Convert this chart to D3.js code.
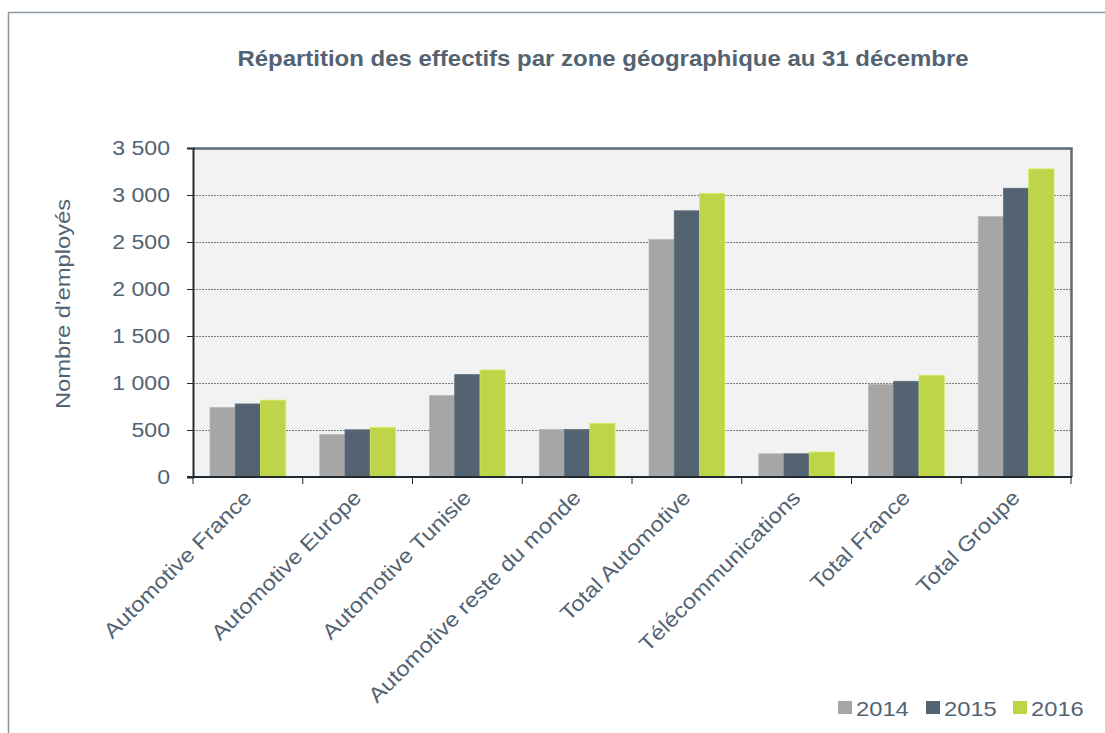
<!DOCTYPE html>
<html>
<head>
<meta charset="utf-8">
<script src="https://cdn.jsdelivr.net/npm/d3@7"></script>
<style>
  body { margin: 0; background: #fff; }
  svg { display: block; }
  svg text { font-family: "Liberation Sans", Arial, Helvetica, sans-serif; }
</style>
</head>
<body>
<script>
var categories = ["Automotive France", "Automotive Europe", "Automotive Tunisie",
  "Automotive reste du monde", "Total Automotive", "Télécommunications",
  "Total France", "Total Groupe"];
var years = ["2014", "2015", "2016"];
var values2014 = [740, 453, 866, 506, 2527, 247, 986, 2771];
var values2015 = [777, 502, 1089, 506, 2832, 247, 1018, 3072];
var values2016 = [817, 527, 1138, 569, 3015, 265, 1082, 3277];
var yTicks = [0, 500, 1000, 1500, 2000, 2500, 3000, 3500];
var colors = ["#a6a6a6", "#536372", "#bed449"];

var series = [values2014, values2015, values2016];
var textColor = "#536372";
var font = "'Liberation Sans', Arial, Helvetica, sans-serif";
var stretch = 1.13; // the source font is a bit wider than Arial

var width = 1105, height = 733;
var margin = { top: 148, right: 34, bottom: 256, left: 193 };

var svg = d3.select("body").append("svg")
  .attr("width", width)
  .attr("height", height)
  .attr("font-family", font);

// outer frame (only top and left visible)
svg.append("path")
  .attr("d", "M8.5,733 V12.5 H1105")
  .attr("fill", "none")
  .attr("stroke", "#8c98a2")
  .attr("stroke-width", 1.5);

svg.append("text")
  .attr("transform", "translate(603,66) scale(1.09,1)")
  .attr("text-anchor", "middle")
  .attr("font-size", 22)
  .attr("font-weight", "bold")
  .attr("fill", textColor)
  .text("Répartition des effectifs par zone géographique au 31 décembre");

var x0 = d3.scaleBand()
  .domain(categories)
  .range([margin.left, width - margin.right])
  .paddingInner(0.31)
  .paddingOuter(0.155);

var x1 = d3.scaleBand()
  .domain(years)
  .range([0, x0.bandwidth()]);

var y = d3.scaleLinear()
  .domain([0, 3500])
  .range([height - margin.bottom, margin.top]);

var plotLeft = margin.left, plotRight = width - margin.right;

// plot background
svg.append("rect")
  .attr("x", plotLeft)
  .attr("y", y(3500))
  .attr("width", plotRight - plotLeft)
  .attr("height", y(0) - y(3500))
  .attr("fill", "#f2f2f2");

// gridlines
svg.append("g")
  .selectAll("line")
  .data(yTicks.filter(d => d > 0 && d < 3500))
  .join("line")
  .attr("x1", plotLeft)
  .attr("x2", plotRight)
  .attr("y1", d => Math.round(y(d)) + 0.5)
  .attr("y2", d => Math.round(y(d)) + 0.5)
  .attr("stroke", "#7f7f7f")
  .attr("stroke-width", 1)
  .attr("stroke-dasharray", "2,1");

// bars
svg.append("g")
  .selectAll("g")
  .data(categories)
  .join("g")
  .attr("transform", d => "translate(" + x0(d) + ",0)")
  .selectAll("rect")
  .data((d, i) => years.map((yr, j) => ({ year: yr, value: series[j][i], j: j })))
  .join("rect")
  .attr("x", d => x1(d.year))
  .attr("y", d => y(d.value))
  .attr("width", x1.bandwidth())
  .attr("height", d => y(0) - y(d.value))
  .attr("fill", d => colors[d.j])
  .attr("stroke", d => d3.color(colors[d.j]).brighter(0.3))
  .attr("stroke-width", 0.8);

// top and right border
svg.append("path")
  .attr("d", "M" + plotLeft + "," + (y(3500) + 0.5) + " H" + (plotRight + 0.5) + " V" + y(0))
  .attr("fill", "none")
  .attr("stroke", "#5b6b79")
  .attr("stroke-width", 2.5);

// y axis
var yAxis = svg.append("g")
  .attr("transform", "translate(" + plotLeft + ",0)")
  .call(d3.axisLeft(y)
    .tickValues(yTicks)
    .tickSize(6)
    .tickFormat(d => d3.format(",")(d).replace(",", " ")));
yAxis.attr("font-family", font).attr("font-size", 21);
yAxis.select(".domain").attr("stroke", "#1f2a33").attr("stroke-width", 2);
yAxis.selectAll(".tick line").attr("stroke", "#1f2a33");
yAxis.selectAll(".tick text")
  .attr("x", 0)
  .attr("transform", "translate(-23,0) scale(1.1,1)")
  .attr("fill", textColor);

// x axis
var xTickPos = d3.range(categories.length + 1).map(i => plotLeft + i * (plotRight - plotLeft) / categories.length);
svg.append("g")
  .selectAll("line")
  .data(xTickPos)
  .join("line")
  .attr("x1", d => d)
  .attr("x2", d => d)
  .attr("y1", y(0))
  .attr("y2", y(0) + 7)
  .attr("stroke", "#1f2a33");
svg.append("line")
  .attr("x1", plotLeft - 6)
  .attr("x2", plotRight + 1)
  .attr("y1", y(0))
  .attr("y2", y(0))
  .attr("stroke", "#1f2a33")
  .attr("stroke-width", 2);

svg.append("g")
  .selectAll("text")
  .data(categories)
  .join("text")
  .attr("transform", d => "translate(" + (x0(d) + x0.bandwidth() / 2 + 5) + "," + (y(0) + 22) + ") rotate(-45) scale(" + stretch + ",1)")
  .attr("text-anchor", "end")
  .attr("font-size", 21)
  .attr("fill", textColor)
  .text(d => d);

// y label
svg.append("text")
  .attr("transform", "translate(70,304) rotate(-90) scale(" + stretch + ",1)")
  .attr("text-anchor", "middle")
  .attr("font-size", 21)
  .attr("fill", textColor)
  .text("Nombre d'employés");

// legend
var legendX = [838, 926, 1013];
var legend = svg.append("g")
  .selectAll("g")
  .data(years)
  .join("g")
  .attr("transform", (d, i) => "translate(" + legendX[i] + ",701)");
legend.append("rect")
  .attr("width", 14)
  .attr("height", 13)
  .attr("fill", (d, i) => colors[i]);
legend.append("text")
  .attr("transform", "translate(18,15) scale(" + stretch + ",1)")
  .attr("font-size", 21)
  .attr("fill", textColor)
  .text(d => d);
</script>
</body>
</html>
